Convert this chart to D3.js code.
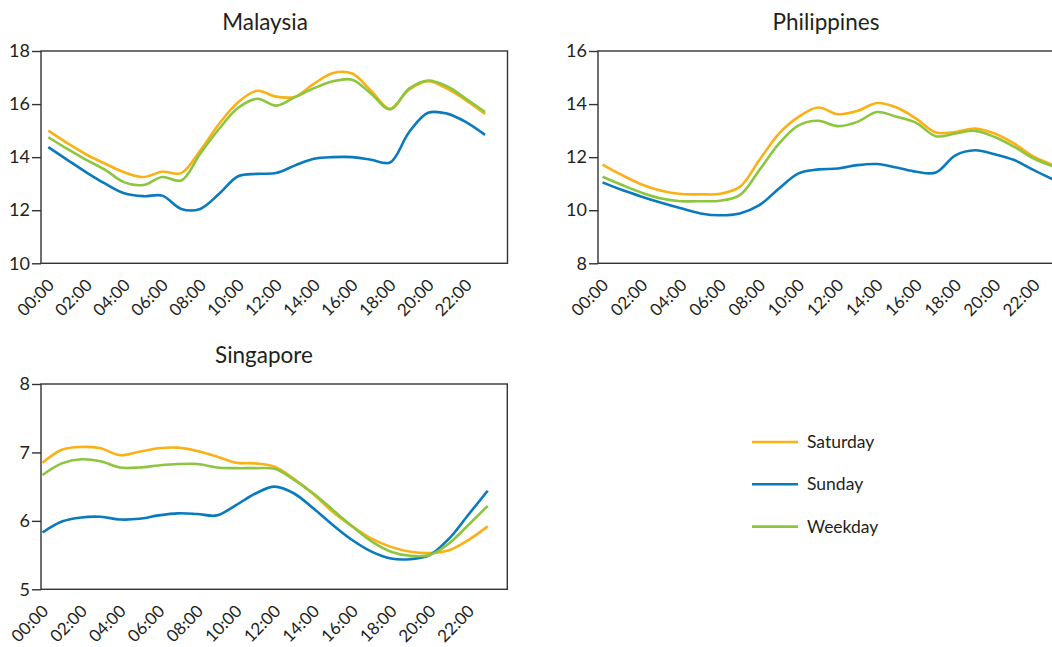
<!DOCTYPE html>
<html>
<head>
<meta charset="utf-8">
<script src="https://d3js.org/d3.v7.min.js"></script>
<style>
  body { margin: 0; background: #fff; }
  svg text { font-family: Lato, "Open Sans", sans-serif; fill: #231f20; }
</style>
</head>
<body>
<div id="chart"></div>
<script>
// hours of the day, one point per hour
var hours = d3.range(0, 24);
var tickHours = [0, 2, 4, 6, 8, 10, 12, 14, 16, 18, 20, 22];
var seriesNames = ["Saturday", "Sunday", "Weekday"];

// Malaysia
var malaysiaSat  = [15.0, 14.53, 14.1, 13.75, 13.43, 13.25, 13.45, 13.4, 14.25, 15.26, 16.07, 16.5, 16.28, 16.28, 16.77, 17.17, 17.15, 16.5, 15.82, 16.54, 16.86, 16.58, 16.14, 15.63];
var malaysiaSun  = [14.38, 13.9, 13.43, 13.0, 12.64, 12.53, 12.55, 12.05, 12.05, 12.62, 13.28, 13.37, 13.4, 13.69, 13.94, 14.0, 14.0, 13.9, 13.8, 14.94, 15.67, 15.64, 15.32, 14.84];
var malaysiaWeek = [14.75, 14.31, 13.9, 13.52, 13.05, 12.95, 13.25, 13.12, 14.13, 15.07, 15.86, 16.2, 15.94, 16.26, 16.6, 16.86, 16.92, 16.39, 15.8, 16.58, 16.89, 16.67, 16.2, 15.7];

// Philippines
var philippinesSat  = [11.72, 11.32, 10.97, 10.73, 10.61, 10.6, 10.62, 10.88, 11.89, 12.89, 13.52, 13.87, 13.62, 13.74, 14.04, 13.87, 13.45, 12.93, 12.95, 13.08, 12.89, 12.51, 12.02, 11.7];
var philippinesSun  = [11.05, 10.76, 10.51, 10.28, 10.07, 9.88, 9.81, 9.88, 10.19, 10.82, 11.39, 11.54, 11.57, 11.7, 11.74, 11.61, 11.45, 11.42, 12.07, 12.26, 12.11, 11.89, 11.51, 11.15];
var philippinesWeek = [11.26, 10.95, 10.66, 10.44, 10.34, 10.34, 10.36, 10.57, 11.51, 12.51, 13.2, 13.37, 13.17, 13.33, 13.7, 13.52, 13.29, 12.79, 12.89, 12.99, 12.76, 12.39, 11.95, 11.65];

// Singapore
var singaporeSat  = [6.85, 7.04, 7.08, 7.06, 6.96, 7.01, 7.06, 7.07, 7.02, 6.94, 6.85, 6.84, 6.79, 6.61, 6.39, 6.13, 5.92, 5.74, 5.62, 5.55, 5.53, 5.57, 5.72, 5.92];
var singaporeSun  = [5.83, 5.99, 6.05, 6.06, 6.02, 6.03, 6.08, 6.11, 6.1, 6.08, 6.23, 6.4, 6.5, 6.4, 6.18, 5.94, 5.72, 5.55, 5.45, 5.44, 5.5, 5.74, 6.09, 6.44];
var singaporeWeek = [6.67, 6.84, 6.9, 6.87, 6.78, 6.78, 6.81, 6.83, 6.83, 6.78, 6.77, 6.77, 6.76, 6.6, 6.4, 6.16, 5.92, 5.7, 5.55, 5.49, 5.5, 5.67, 5.94, 6.22];

var colors = { Saturday: "#fbb016", Sunday: "#0a7abf", Weekday: "#8cc63f" };

var width = 1052, height = 647;

var svg = d3.select("#chart").append("svg")
  .attr("width", width)
  .attr("height", height);

// panel boxes and where the first / last hour sit
var panels = [
  { title: "Malaysia", left: 41, top: 51, right: 507.5, bottom: 263.3, x0: 48.3, x1: 485,
    yDomain: [10, 18], yTicks: [10, 12, 14, 16, 18],
    series: [malaysiaSat, malaysiaSun, malaysiaWeek], titleX: 265 },
  { title: "Philippines", left: 598, top: 51, right: 1090, bottom: 263.3, x0: 602.5, x1: 1053.5,
    yDomain: [8, 16], yTicks: [8, 10, 12, 14, 16],
    series: [philippinesSat, philippinesSun, philippinesWeek], titleX: 826 },
  { title: "Singapore", left: 41, top: 384, right: 507.3, bottom: 589.3, x0: 42.5, x1: 487.7,
    yDomain: [5, 8], yTicks: [5, 6, 7, 8],
    series: [singaporeSat, singaporeSun, singaporeWeek], titleX: 264 }
];

panels.forEach(function(p) {
  var g = svg.append("g");

  var x = d3.scaleLinear().domain([0, 23]).range([p.x0, p.x1]);
  var y = d3.scaleLinear().domain(p.yDomain).range([p.bottom, p.top]);

  // frame
  g.append("rect")
    .attr("x", p.left)
    .attr("y", p.top)
    .attr("width", p.right - p.left)
    .attr("height", p.bottom - p.top)
    .attr("fill", "none")
    .attr("stroke", "#333")
    .attr("stroke-width", 1.4);

  // y axis
  var yAxis = g.append("g")
    .attr("transform", "translate(" + p.left + ",0)")
    .call(d3.axisLeft(y).tickValues(p.yTicks).tickSize(9).tickPadding(2).tickFormat(d3.format("d")));
  yAxis.select(".domain").remove();
  yAxis.selectAll("line").attr("stroke", "#333").attr("stroke-width", 1.4);
  yAxis.selectAll("text")
    .style("font-family", "Lato, sans-serif")
    .style("font-size", "18px")
    .attr("fill", "#231f20");

  // x labels, rotated
  g.selectAll(".xlab")
    .data(tickHours)
    .enter()
    .append("text")
    .attr("class", "xlab")
    .attr("text-anchor", "end")
    .attr("transform", function(d) {
      return "translate(" + (x(d) + 7) + "," + (p.bottom + 23) + ") rotate(-45)";
    })
    .style("font-size", "17px")
    .text(function(d) { return d3.format("02d")(d) + ":00"; });

  // title
  g.append("text")
    .attr("x", p.titleX)
    .attr("y", p.top - 21)
    .attr("text-anchor", "middle")
    .style("font-size", "22.5px")
    .text(p.title);

  // lines
  var line = d3.line()
    .x(function(d, i) { return x(hours[i]); })
    .y(function(d) { return y(d); })
    .curve(d3.curveCatmullRom.alpha(0.5));

  p.series.forEach(function(s, i) {
    g.append("path")
      .datum(s)
      .attr("d", line)
      .attr("fill", "none")
      .attr("stroke", colors[seriesNames[i]])
      .attr("stroke-width", 2.6);
  });
});

// legend
var legend = svg.append("g").attr("transform", "translate(752,442)");
var item = legend.selectAll("g")
  .data(seriesNames)
  .enter()
  .append("g")
  .attr("transform", function(d, i) { return "translate(0," + (i * 42.3) + ")"; });

item.append("line")
  .attr("x1", 0)
  .attr("x2", 46)
  .attr("stroke", function(d) { return colors[d]; })
  .attr("stroke-width", 2.6);

item.append("text")
  .attr("x", 55)
  .attr("dy", "0.35em")
  .style("font-size", "17.5px")
  .text(function(d) { return d; });
</script>
</body>
</html>
